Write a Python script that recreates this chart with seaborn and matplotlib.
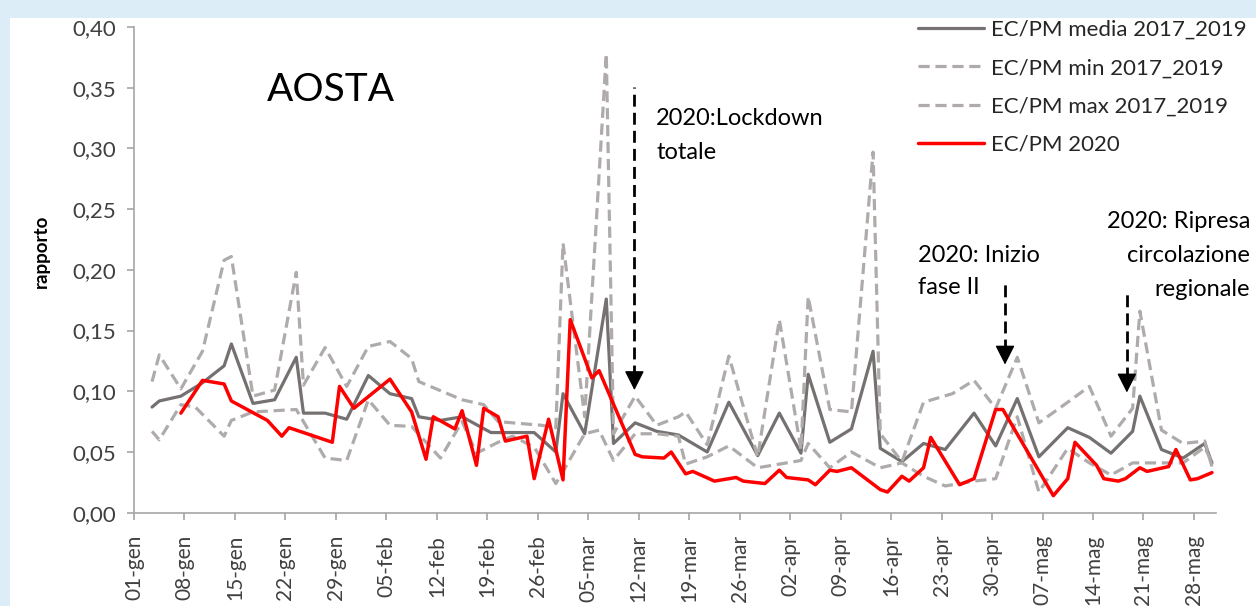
import matplotlib.pyplot as plt
import numpy as np
import pandas as pd
import seaborn as sns
from matplotlib.patches import Rectangle
from matplotlib.ticker import FuncFormatter

# etichette dell'asse x (una ogni 7 giorni a partire dal 01-gen)
tick_labels = ["01-gen", "08-gen", "15-gen", "22-gen", "29-gen", "05-feb", "12-feb",
               "19-feb", "26-feb", "05-mar", "12-mar", "19-mar", "26-mar", "02-apr",
               "09-apr", "16-apr", "23-apr", "30-apr", "07-mag", "14-mag", "21-mag", "28-mag"]

# giorno dell'anno (0 = 01-gen) e valori
giorni_media = [2, 3, 6, 9, 12, 13, 16, 19, 22, 23, 26, 29, 32, 35, 38, 39, 42, 45, 49, 55,
                58, 59, 62, 65, 66, 69, 72, 75, 79, 82, 86, 89, 92, 93, 96, 99, 102, 103,
                106, 109, 112, 116, 119, 122, 125, 129, 132, 135, 138, 139, 142, 145, 148, 149]
media = [0.087, 0.092, 0.096, 0.107, 0.121, 0.139, 0.090, 0.093, 0.128, 0.082, 0.082, 0.077,
         0.113, 0.098, 0.094, 0.079, 0.076, 0.079, 0.066, 0.066, 0.050, 0.098, 0.065, 0.176,
         0.057, 0.074, 0.067, 0.064, 0.050, 0.091, 0.047, 0.082, 0.049, 0.114, 0.058, 0.069,
         0.133, 0.053, 0.042, 0.057, 0.052, 0.082, 0.055, 0.094, 0.046, 0.070, 0.062, 0.049,
         0.067, 0.096, 0.052, 0.045, 0.057, 0.041]

giorni_min = [2, 3, 6, 8, 12, 13, 16, 22, 26, 29, 32, 35, 38, 42, 45, 47, 50, 52, 55, 58, 59,
              62, 64, 66, 69, 72, 75, 76, 79, 82, 86, 92, 93, 96, 99, 103, 106, 109, 112, 116,
              119, 122, 125, 129, 132, 135, 138, 142, 145, 148, 149]
minimo = [0.067, 0.060, 0.089, 0.087, 0.063, 0.076, 0.083, 0.085, 0.045, 0.043, 0.093, 0.072,
          0.071, 0.045, 0.075, 0.049, 0.058, 0.063, 0.054, 0.024, 0.034, 0.065, 0.068, 0.043,
          0.065, 0.065, 0.063, 0.040, 0.046, 0.055, 0.037, 0.043, 0.057, 0.037, 0.050, 0.037,
          0.041, 0.030, 0.022, 0.026, 0.028, 0.079, 0.017, 0.053, 0.041, 0.031, 0.041, 0.041,
          0.041, 0.054, 0.041]

giorni_max = [2, 3, 6, 9, 12, 13, 16, 19, 22, 23, 26, 29, 32, 35, 38, 39, 45, 48, 50, 56, 58,
              59, 62, 65, 66, 69, 72, 75, 76, 79, 82, 86, 89, 92, 93, 96, 99, 102, 103, 106,
              109, 113, 116, 119, 122, 125, 129, 132, 135, 138, 139, 142, 145, 148, 149]
massimo = [0.108, 0.130, 0.102, 0.133, 0.208, 0.211, 0.096, 0.101, 0.198, 0.105, 0.136, 0.104,
           0.137, 0.141, 0.127, 0.108, 0.093, 0.089, 0.075, 0.072, 0.070, 0.222, 0.079, 0.378,
           0.065, 0.096, 0.072, 0.079, 0.083, 0.056, 0.129, 0.046, 0.159, 0.052, 0.178, 0.085,
           0.083, 0.297, 0.065, 0.042, 0.091, 0.098, 0.109, 0.086, 0.128, 0.074, 0.091, 0.104,
           0.063, 0.086, 0.166, 0.068, 0.057, 0.059, 0.038]

giorni_2020 = [6, 9, 12, 13, 18, 20, 21, 27, 28, 30, 35, 38, 40, 41, 44, 45, 47, 48, 50, 51,
               54, 55, 57, 59, 60, 63, 64, 69, 70, 73, 74, 76, 77, 80, 83, 84, 87, 89, 90, 93,
               94, 96, 97, 99, 103, 104, 106, 107, 109, 110, 114, 116, 119, 120, 127, 129, 130,
               133, 134, 136, 137, 139, 140, 143, 144, 146, 147, 149]
ec_pm_2020 = [0.082, 0.109, 0.106, 0.092, 0.076, 0.063, 0.070, 0.058, 0.104, 0.086, 0.110,
              0.083, 0.044, 0.079, 0.069, 0.084, 0.039, 0.086, 0.079, 0.059, 0.063, 0.028,
              0.077, 0.027, 0.159, 0.111, 0.117, 0.048, 0.046, 0.045, 0.050, 0.032, 0.034,
              0.026, 0.029, 0.026, 0.024, 0.035, 0.029, 0.027, 0.023, 0.035, 0.034, 0.037,
              0.019, 0.017, 0.030, 0.026, 0.037, 0.062, 0.023, 0.028, 0.085, 0.085, 0.014,
              0.028, 0.058, 0.039, 0.028, 0.026, 0.028, 0.037, 0.034, 0.038, 0.052, 0.027,
              0.028, 0.033]

serie = [
    ("EC/PM media 2017_2019", giorni_media, media),
    ("EC/PM min 2017_2019", giorni_min, minimo),
    ("EC/PM max 2017_2019", giorni_max, massimo),
    ("EC/PM 2020", giorni_2020, ec_pm_2020),
]
stili = {
    "EC/PM media 2017_2019": dict(color="#767171", lw=2.3, linestyle="-"),
    "EC/PM min 2017_2019": dict(color="#AFABAB", lw=2.3, linestyle=(0, (3.5, 1.8))),
    "EC/PM max 2017_2019": dict(color="#AFABAB", lw=2.3, linestyle=(0, (3.5, 1.8))),
    "EC/PM 2020": dict(color="#FF0000", lw=2.5, linestyle="-"),
}

sns.set_theme(style="white")
plt.rcParams["font.family"] = ["Lato", "DejaVu Sans"]

fig = plt.figure(figsize=(12.56, 6.06), dpi=100, facecolor="#dcedf8")
fig.patches.append(Rectangle((10 / 1256, 0), 1, 1 - 18 / 606, transform=fig.transFigure,
                             facecolor="white", edgecolor="none", zorder=-10))
ax = fig.add_axes([0.1067, 0.154, 0.8611, 0.8013])
ax.set_facecolor("white")

for nome, giorni, valori in serie:
    df = pd.DataFrame({"giorno": np.array(giorni) + 0.5, "rapporto": valori})
    sns.lineplot(data=df, x="giorno", y="rapporto", ax=ax, label=nome, **stili[nome])

ax.set_xlim(0, 150)
ax.set_ylim(0, 0.40)
ax.set_xticks(np.arange(len(tick_labels)) * 7)
ax.set_xticklabels(tick_labels, rotation=90)
ax.set_yticks(np.arange(0, 0.401, 0.05))
ax.yaxis.set_major_formatter(FuncFormatter(lambda v, p: f"{v:.2f}".replace(".", ",")))
ax.set_xlabel("")
ax.set_ylabel("")

for s in ["top", "right"]:
    ax.spines[s].set_visible(False)
for s in ["left", "bottom"]:
    ax.spines[s].set_color("#A6A6A6")
    ax.spines[s].set_linewidth(1.2)
ax.tick_params(axis="both", direction="out", length=5, width=1.2, color="#A6A6A6",
               labelcolor="#404040")
ax.tick_params(axis="x", pad=11, bottom=True, labelsize=15)
ax.tick_params(axis="y", pad=8, left=True, labelsize=16)

fig.text(41 / 1256, 1 - 251 / 606, "rapporto", rotation=90, ha="center", va="center",
         fontsize=13.5, fontweight="bold", color="black")

ax.text(18.4, 0.348, "AOSTA", fontsize=28, ha="left", va="center", color="black")
ax.text(72.4, 0.311, "2020:Lockdown\ntotale", fontsize=17, ha="left", va="center",
        linespacing=1.75, color="black")
ax.text(108.7, 0.199, "2020: Inizio\nfase II", fontsize=17, ha="left", va="center",
        linespacing=1.65, color="black")
ax.text(154.8, 0.212, "2020: Ripresa\ncircolazione\nregionale", fontsize=17, ha="right",
        va="center", multialignment="right", linespacing=1.75, color="black", clip_on=False)

# frecce tratteggiate: (x, inizio in alto, punta)
frecce = [(69.4, 0.351, 0.101), (120.8, 0.189, 0.122), (137.7, 0.182, 0.099)]
testa = 0.011
for fx, alto, punta in frecce:
    ax.vlines(fx, punta + testa, alto, colors="black", lw=2, linestyles=[(0, (4.3, 2.2))])
    ax.annotate("", xy=(fx, punta), xytext=(fx, punta + testa),
                arrowprops=dict(arrowstyle="-|>,head_length=0.75,head_width=0.38", lw=1,
                                color="black", shrinkA=0, shrinkB=0, mutation_scale=16))

ax.legend(loc="upper left", bbox_to_anchor=(918 / 1256, 1 - 20 / 606),
          bbox_transform=fig.transFigure, frameon=False, fontsize=16, handlelength=2.95,
          handletextpad=0.35, labelspacing=0.82, borderpad=0, borderaxespad=0)

fig.savefig("out.png", dpi=100, facecolor=fig.get_facecolor())
